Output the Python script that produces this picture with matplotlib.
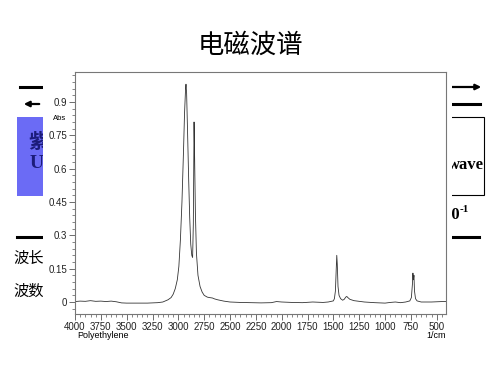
import matplotlib
matplotlib.use("Agg")
import matplotlib.pyplot as plt
from matplotlib.patches import Rectangle, FancyArrowPatch
from matplotlib.ticker import MultipleLocator

plt.rcParams['font.family'] = ['Noto Sans CJK SC', 'DejaVu Sans']

# IR spectrum of polyethylene
wavenumber = [4000, 3950, 3900, 3850, 3800, 3750, 3700, 3650, 3600, 3550, 3500, 3400,
              3300, 3200, 3150, 3100, 3070, 3050, 3030, 3010, 2995, 2980, 2965, 2950,
              2940, 2930, 2926, 2920, 2910, 2900, 2890, 2880, 2870, 2862, 2855, 2851,
              2848, 2844, 2835, 2825, 2810, 2790, 2770, 2750, 2720, 2700, 2670, 2650,
              2620, 2600, 2560, 2500, 2400, 2300, 2200, 2100, 2050, 2000, 1900, 1800,
              1700, 1600, 1550, 1500, 1490, 1480, 1472, 1467, 1462, 1455, 1445, 1430,
              1410, 1395, 1380, 1370, 1360, 1340, 1300, 1250, 1200, 1100, 1000, 950,
              900, 850, 800, 760, 745, 735, 730, 726, 720, 715, 705, 690, 650, 550,
              450, 410]
absorbance = [0.002, 0.004, 0.003, 0.006, 0.003, 0.004, 0.002, 0.004, 0.001, -0.004, -0.005, -0.005,
              -0.005, -0.003, 0.0, 0.01, 0.02, 0.035, 0.06, 0.1, 0.16, 0.28, 0.45, 0.68,
              0.85, 0.96, 0.98, 0.94, 0.75, 0.55, 0.38, 0.26, 0.21, 0.2, 0.35, 0.6,
              0.81, 0.7, 0.4, 0.22, 0.12, 0.07, 0.045, 0.03, 0.022, 0.02, 0.018, 0.014,
              0.01, 0.008, 0.004, 0.0, -0.002, -0.003, -0.004, -0.003, 0.002, 0.0, -0.002, -0.003,
              0.0, -0.002, 0.0, 0.005, 0.015, 0.05, 0.15, 0.21, 0.17, 0.07, 0.03, 0.015,
              0.008, 0.012, 0.022, 0.025, 0.02, 0.012, 0.006, 0.003, 0.0, -0.003, -0.005, -0.002,
              0.0, -0.003, 0.0, 0.005, 0.02, 0.08, 0.13, 0.1, 0.12, 0.05, 0.015, 0.005, 0.0, 0.0,
              0.002, 0.002]

y_ticks = [0, 0.15, 0.3, 0.45, 0.6, 0.75, 0.9]
y_labels = ['0', '0.15', '0.3', '0.45', '0.6', '0.75', '0.9']
x_ticks = [4000, 3750, 3500, 3250, 3000, 2750, 2500, 2250, 2000, 1750, 1500, 1250, 1000, 750, 500]

W, H = 500, 375
fig = plt.figure(figsize=(5, 3.75), dpi=100)


def fx(px):
    return px / W


def fy(py):
    return 1 - py / H


# slide decorations, partly hidden behind the pasted spectrum
def hline(x0, x1, y, lw=2.2):
    fig.add_artist(plt.Line2D([fx(x0), fx(x1)], [fy(y), fy(y)], color='black', lw=lw, zorder=0.5))


def arrow(x0, x1, y):
    fig.add_artist(FancyArrowPatch((fx(x0), fy(y)), (fx(x1), fy(y)),
                   transform=fig.transFigure, arrowstyle='-|>', mutation_scale=8,
                   color='black', lw=1.6, zorder=0.5))


hline(20, 42, 87)
arrow(42, 21, 104)
fig.add_artist(Rectangle((fx(17), fy(196)), fx(60), 79 / H, transform=fig.transFigure,
                         facecolor='#6b6bf5', edgecolor='none', zorder=0.4))
fig.text(fx(28), fy(143), '紫', fontsize=14, fontweight='bold', color='#1c1c7a',
         va='center', ha='left', zorder=0.5)
fig.text(fx(30), fy(163), 'U', fontsize=14, fontweight='bold', color='#1c1c7a',
         va='center', ha='left', family='Liberation Serif', zorder=0.5)
hline(17, 42, 237)
fig.text(fx(13), fy(258), '波长', fontsize=11, va='center', ha='left', zorder=0.5)
fig.text(fx(13), fy(291), '波数', fontsize=11, va='center', ha='left', zorder=0.5)

arrow(430, 484, 87)
hline(430, 480, 104)
fig.add_artist(Rectangle((fx(420), fy(195)), 64 / W, 78 / H, transform=fig.transFigure,
                         facecolor='none', edgecolor='black', lw=0.8, zorder=0.4))
fig.text(fx(484), fy(165), 'wave', fontsize=12, fontweight='bold', family='Liberation Serif',
         va='center', ha='right', zorder=0.5)
fig.text(fx(460), fy(215), '10', fontsize=12, fontweight='bold',
         family='Liberation Serif', va='center', ha='right', zorder=0.5)
fig.text(fx(460), fy(209), '-1', fontsize=8, fontweight='bold',
         family='Liberation Serif', va='center', ha='left', zorder=0.5)
hline(430, 479, 237)

# white area of the pasted spectrum
fig.add_artist(Rectangle((fx(43), fy(346)), 409 / W, 282 / H, transform=fig.transFigure,
                         facecolor='white', edgecolor='none', zorder=0.8))

fig.text(0.5, fy(45), '电磁波谱', fontsize=19, ha='center', va='center')

ax = fig.add_axes([fx(75), fy(314), (446 - 75) / W, (314 - 72) / H])
ax.set_zorder(1)
ax.plot(wavenumber, absorbance, color='#333333', lw=0.6)
ax.set_xlim(4000, 410)
ax.set_ylim(-0.054, 1.035)
ax.set_xticks(x_ticks)
ax.set_yticks(y_ticks)
ax.set_yticklabels(y_labels)
ax.xaxis.set_minor_locator(MultipleLocator(50))
ax.yaxis.set_minor_locator(MultipleLocator(0.03))
ax.tick_params(which='major', length=4, width=0.6, color='#555555', labelsize=7,
               labelcolor='#222222', pad=1.5)
ax.tick_params(which='minor', length=2, width=0.5, color='#555555')
for lab in ax.get_xticklabels() + ax.get_yticklabels():
    lab.set_family('Liberation Sans')
for s in ax.spines.values():
    s.set_color('#777777')
    s.set_linewidth(0.8)

fig.text(fx(60), fy(118), 'Abs', fontsize=5.5, family='Liberation Sans', ha='center', va='center')
fig.text(fx(77), fy(336), 'Polyethylene', fontsize=6.5, family='Liberation Sans', ha='left', va='center')
fig.text(fx(446), fy(336), '1/cm', fontsize=6.5, family='Liberation Sans', ha='right', va='center')

fig.savefig('out.png', dpi=100)
